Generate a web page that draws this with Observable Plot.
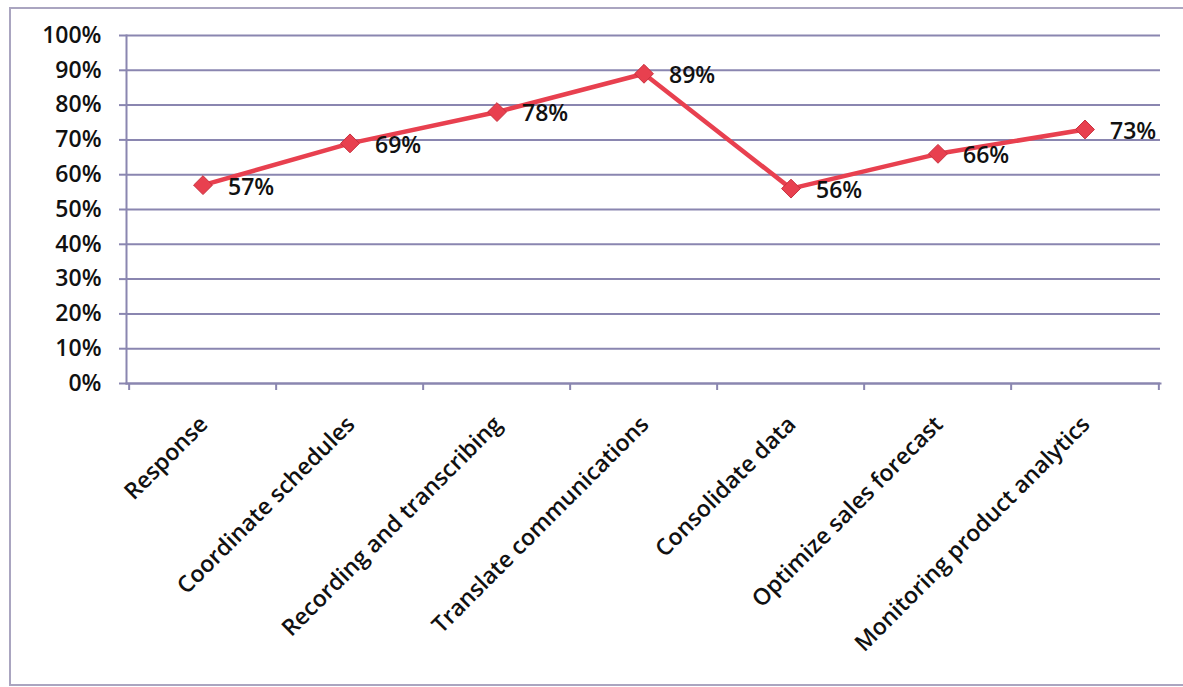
<!DOCTYPE html>
<html><head><meta charset="utf-8">
<script src="https://cdn.jsdelivr.net/npm/d3@7"></script>
<script src="https://cdn.jsdelivr.net/npm/@observablehq/plot@0.6"></script>
<style>
html,body{margin:0;padding:0;background:#fff;}
#wrap{position:relative;width:1183px;height:687px;overflow:hidden;}
#border{position:absolute;left:9px;top:7px;width:1200px;height:679px;border:2px solid #aaa5c0;box-sizing:border-box;}
#chart{position:absolute;left:0;top:0;}
</style></head><body>
<div id="wrap"><div id="border"></div><div id="chart"></div></div>
<script>
const categories = ["Response", "Coordinate schedules", "Recording and transcribing", "Translate communications", "Consolidate data", "Optimize sales forecast", "Monitoring product analytics"];
const values = [0.57, 0.69, 0.78, 0.89, 0.56, 0.66, 0.73];
const yTicks = [0, 0.1, 0.2, 0.3, 0.4, 0.5, 0.6, 0.7, 0.8, 0.9, 1.0];

const data = categories.map((c, i) => ({task: c, share: values[i]}));
const W = 1183, H = 687, mL = 126, mR = 23, mT = 35, mB = 304;
const bw = (W - mL - mR) / categories.length;
const grid = "#8a86b0";
const red = "#e8404f";
const pct = d3.format(".0%");

const chart = Plot.plot({
  width: W, height: H,
  marginLeft: mL, marginRight: mR, marginTop: mT, marginBottom: mB,
  style: {fontFamily: "'Open Sans', sans-serif", fontSize: "23px", fontWeight: 600, color: "#111", background: "transparent", overflow: "visible"},
  x: {type: "band", domain: categories, padding: 0},
  y: {domain: [0, 1]},
  marks: [
    Plot.gridY(yTicks, {stroke: grid, strokeOpacity: 1, strokeWidth: 2}),
    Plot.axisY(yTicks, {tickFormat: pct, tickSize: 7, tickPadding: 18, stroke: grid, strokeWidth: 2, label: null, fill: "#111"}),
    Plot.frame({anchor: "left", stroke: grid, strokeWidth: 2}),
    Plot.frame({anchor: "bottom", stroke: grid, strokeWidth: 2}),
    Plot.axisX({tickSize: 7, dx: -bw / 2, tickFormat: () => "", stroke: grid, strokeWidth: 2, label: null}),
    Plot.axisX([categories[categories.length - 1]], {tickSize: 7, dx: bw / 2, tickFormat: () => "", stroke: grid, strokeWidth: 2, label: null}),
    Plot.axisX({tickSize: 0, tickRotate: -45, tickPadding: 37, dx: 1, label: null, fill: "#111"}),
    Plot.line(data, {x: "task", y: "share", stroke: red, strokeWidth: 4.5}),
    Plot.dot(data, {x: "task", y: "share", symbol: "diamond2", r: 8.5, fill: red, stroke: "#c8303e", strokeWidth: 1}),
    Plot.text(data, {x: "task", y: "share", text: d => pct(d.share), textAnchor: "start", dx: 25, dy: 2, fontSize: 23, fill: "#111"})
  ]
});
document.getElementById("chart").appendChild(chart);
</script>
</body></html>
